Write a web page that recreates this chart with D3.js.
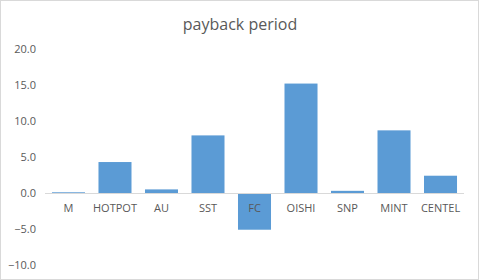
<!DOCTYPE html>
<html>
<head>
<meta charset="utf-8">
<script src="https://cdn.jsdelivr.net/npm/d3@7"></script>
<style>
  body { margin: 0; background: #fff; }
  text { font-family: "Open Sans", "Noto Sans", sans-serif; }
</style>
</head>
<body>
<div id="chart"></div>
<script>
// payback period per company
var categories = ["M", "HOTPOT", "AU", "SST", "FC", "OISHI", "SNP", "MINT", "CENTEL"];
var values = [0.1, 4.3, 0.5, 8.0, -5.1, 15.2, 0.3, 8.7, 2.4];
var yTicks = [-10, -5, 0, 5, 10, 15, 20];

var width = 479, height = 280;
var margin = {left: 45, right: 15, top: 49, bottom: 15};

var svg = d3.select("#chart").append("svg")
    .attr("width", width)
    .attr("height", height);

svg.append("rect")
    .attr("x", 0.5).attr("y", 0.5)
    .attr("width", width - 1).attr("height", height - 1)
    .attr("fill", "#fff")
    .attr("stroke", "#d9d9d9");

var x = d3.scaleBand()
    .domain(categories)
    .range([margin.left, 464])
    .paddingInner(0.29)
    .paddingOuter(0.15);

var y = d3.scaleLinear()
    .domain([-10, 20])
    .range([265, margin.top]);

svg.append("text")
    .attr("x", 240)
    .attr("y", 30)
    .attr("text-anchor", "middle")
    .attr("fill", "#595959")
    .style("font-size", "16px")
    .text("payback period");

// y axis labels
var yAxis = d3.axisLeft(y)
    .tickValues(yTicks)
    .tickFormat(d3.format(".1f"))
    .tickSize(0)
    .tickPadding(0);

var gy = svg.append("g")
    .attr("transform", "translate(36,0)")
    .call(yAxis);
gy.select(".domain").remove();
gy.selectAll("text")
    .attr("fill", "#595959")
    .style("font-size", "11px");

svg.selectAll("rect.bar")
    .data(values)
    .enter()
    .append("rect")
    .attr("class", "bar")
    .attr("x", function(d, i) { return x(categories[i]); })
    .attr("y", function(d) { return y(Math.max(0, d)); })
    .attr("width", x.bandwidth())
    .attr("height", function(d) { return Math.abs(y(d) - y(0)); })
    .attr("fill", "#5b9bd5");

// zero line
svg.append("line")
    .attr("x1", margin.left).attr("x2", 464)
    .attr("y1", y(0) + 0.5).attr("y2", y(0) + 0.5)
    .attr("stroke", "#d9d9d9");

// category labels under the zero line
var xAxis = d3.axisBottom(x).tickSize(0).tickPadding(0);
var gx = svg.append("g")
    .attr("transform", "translate(0," + (y(0) + 11) + ")")
    .call(xAxis);
gx.select(".domain").remove();
gx.selectAll("text")
    .attr("fill", "#595959")
    .style("font-size", "11px");
</script>
</body>
</html>
